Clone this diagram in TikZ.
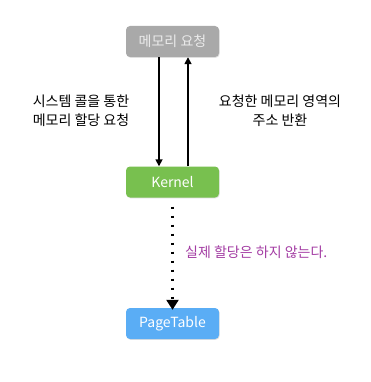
\documentclass[tikz,border=0pt]{standalone}
\usepackage{fontspec}
\setmainfont{Noto Sans CJK KR}
\usetikzlibrary{arrows.meta,shadows}
\definecolor{boxgray}{HTML}{A9A9A9}
\definecolor{boxgreen}{HTML}{78C04F}
\definecolor{boxblue}{HTML}{5AADF5}
\definecolor{notepurple}{HTML}{A43DA4}
\tikzset{
  x=1pt, y=-1pt,
  box/.style={rounded corners=4pt, minimum width=93pt, minimum height=31pt, inner sep=0pt,
    font=\fontsize{14}{16}\selectfont, drop shadow={shadow xshift=0.6pt, shadow yshift=-0.8pt, opacity=0.25}},
  lbl/.style={font=\fontsize{14}{19}\selectfont, align=center, inner sep=0pt},
  arr/.style={line width=1.6pt, -{Triangle[length=7pt,width=7pt]}},
}
\begin{document}
\begin{tikzpicture}
\useasboundingbox (0,0) rectangle (371,382);
\fill[white] (0,0) rectangle (371,382);
\node[box, fill=boxgray, text=white!92!black] (req) at (172.5,41.5) {메모리 요청};
\node[box, fill=boxgreen, text=white] (kernel) at (172.5,182) {Kernel};
\node[box, fill=boxblue, text=white] (pt) at (172.5,323.5) {PageTable};
\draw[arr] ([xshift=-13.5pt]req.south) -- ([xshift=-13.5pt]kernel.north);
\draw[arr] ([xshift=15.5pt]kernel.north) -- ([xshift=15.5pt]req.south);
\coordinate (ks) at ([yshift=-9pt]kernel.south);
\draw[line width=2.4pt, dash pattern=on 2.4pt off 6.6pt, -{Triangle[length=10pt,width=12pt]}] (ks) -- ([yshift=-2pt]pt.north);
\node[lbl] (l1) at (81,110.5) {시스템 콜을 통한\\메모리 할당 요청};
\node[lbl] (l2) at (280,110.5) {요청한 메모리 영역의\\주소 반환};
\node[lbl, text=notepurple, anchor=west] (l3) at (185,252) {실제 할당은 하지 않는다.};
\end{tikzpicture}
\end{document}
